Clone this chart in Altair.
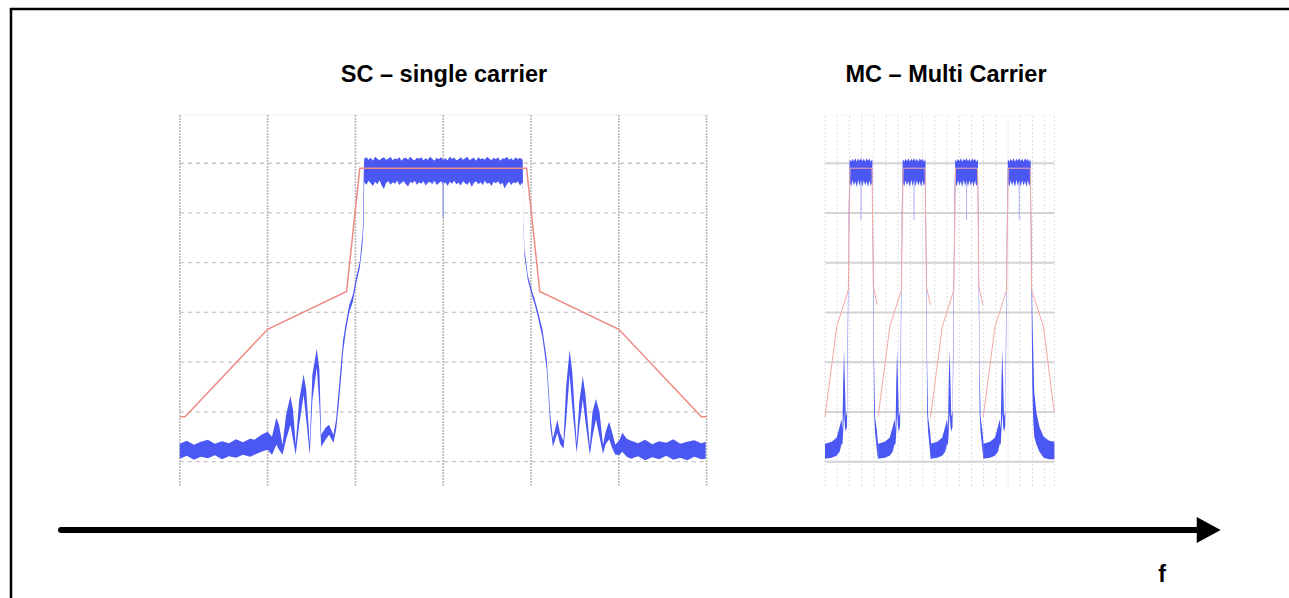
import altair as alt
import pandas as pd

# ---------------- data: SC (single carrier) spectrum ----------------
# frequency in grid divisions (centre = 0), level in dB (top grid line = 0 dB)
sc_grid_f = [-3, -2, -1, 0, 1, 2, 3]
grid_db = [-60, -50, -40, -30, -20, -10, 0]
db_domain = [-64.9, 9.7]
sc_f_domain = [-3, 3]

sc_left_f = [-3.00, -2.92, -2.84, -2.76, -2.68, -2.60, -2.52, -2.44, -2.36, -2.28, -2.20, -2.15,
             -2.07, -2.00, -1.95, -1.90, -1.87, -1.83, -1.79, -1.74, -1.71, -1.68, -1.64, -1.59,
             -1.56, -1.52, -1.49, -1.44, -1.41, -1.39, -1.34, -1.30, -1.25, -1.22, -1.19, -1.16,
             -1.14, -1.11, -1.07, -1.03, -0.99, -0.95, -0.92, -0.912, -0.905]
sc_left_hi = [-56.4, -55.8, -56.6, -56.0, -55.6, -56.4, -55.9, -56.3, -55.5, -56.1, -55.4, -55.6,
              -54.6, -54.0, -55.0, -51.2, -52.6, -56.6, -50.6, -46.8, -49.6, -56.6, -47.6, -42.5,
              -45.6, -56.6, -42.5, -37.3, -41.5, -54.6, -53.2, -52.6, -54.6, -51.6, -45.6, -39.5,
              -35.5, -32.3, -28.5, -26.5, -22.8, -19.8, -14.4, -12.0, -2.0]
sc_left_lo = [-59.4, -58.8, -59.6, -59.0, -59.3, -58.7, -59.5, -58.9, -59.2, -58.6, -59.0, -58.6,
              -58.0, -57.6, -58.6, -56.6, -57.6, -58.6, -55.6, -52.6, -55.6, -58.6, -52.6, -46.6,
              -51.6, -58.6, -47.6, -41.1, -48.6, -57.0, -55.6, -54.6, -56.2, -53.6, -48.6, -42.5,
              -37.9, -33.9, -29.9, -27.9, -24.1, -21.0, -16.4, -14.0, -12.0]

sc_band_f = [-0.900, -0.875, -0.850, -0.825, -0.800, -0.775, -0.750, -0.725, -0.700, -0.675,
             -0.650, -0.625, -0.600, -0.575, -0.550, -0.525, -0.500, -0.475, -0.450, -0.425,
             -0.400, -0.375, -0.350, -0.325, -0.300, -0.275, -0.250, -0.225, -0.200, -0.175,
             -0.150, -0.125, -0.100, -0.075, -0.050, -0.025, 0.000, 0.025, 0.050, 0.075,
             0.100, 0.125, 0.150, 0.175, 0.200, 0.225, 0.250, 0.275, 0.300, 0.325,
             0.350, 0.375, 0.400, 0.425, 0.450, 0.475, 0.500, 0.525, 0.550, 0.575,
             0.600, 0.625, 0.650, 0.675, 0.700, 0.725, 0.750, 0.775, 0.800, 0.825,
             0.850, 0.875, 0.900, 0.905]
sc_band_hi = [0.9, 1.2, 0.7, 1.1, 0.5, 1.3, 0.9, 0.6, 1.0, 1.2, 0.7, 0.9, 1.3, 0.6, 1.0, 0.8, 1.2, 0.5, 1.0, 1.1,
              0.7, 1.3, 0.8, 0.6, 1.1, 0.9, 1.2, 0.6, 1.0, 0.7, 1.3, 0.9, 0.5, 1.1, 0.8, 1.2, 0.7, 1.0, 0.6, 1.3,
              0.9, 1.1, 0.6, 0.8, 1.2, 0.7, 1.0, 1.3, 0.6, 0.9, 1.1, 0.5, 1.2, 0.8, 1.0, 0.7, 1.3, 0.9, 0.6, 1.1,
              0.8, 1.2, 0.5, 1.0, 0.9, 1.3, 0.7, 1.0, 0.6, 1.2, 0.8, 1.1, 0.7, 0.9]
sc_band_lo = [-3.8, -4.3, -3.5, -4.0, -4.6, -3.7, -4.2, -3.4, -4.5, -5.2, -3.9, -3.6, -4.3, -3.8, -4.1, -3.5, -4.4, -3.9, -3.6, -4.2,
              -4.7, -3.7, -4.0, -3.5, -4.3, -3.8, -4.1, -3.6, -4.5, -3.9, -3.7, -4.2, -3.5, -4.4, -4.0, -3.6, -4.3, -3.8, -4.6, -3.7,
              -4.1, -3.5, -4.2, -3.9, -4.5, -3.6, -4.0, -4.3, -3.7, -4.8, -3.9, -3.6, -4.2, -3.8, -4.4, -3.5, -4.1, -3.9, -4.6, -3.7,
              -4.0, -3.6, -4.3, -3.9, -5.1, -4.2, -3.7, -4.4, -3.8, -4.0, -3.6, -4.5, -3.9, -3.9]

sc_right_f = [0.91, 0.914, 0.925, 0.962, 1.02, 1.04, 1.08, 1.13, 1.18, 1.22, 1.25, 1.30, 1.33,
              1.37, 1.40, 1.44, 1.47, 1.52, 1.55, 1.59, 1.62, 1.67, 1.70, 1.74, 1.78, 1.82, 1.85,
              1.89, 1.93, 1.96, 2.01, 2.04, 2.09, 2.14, 2.22, 2.30, 2.38, 2.46, 2.54, 2.62, 2.70,
              2.78, 2.86, 2.94, 2.99]
sc_right_hi = [-5.4, -11.0, -17.2, -22.4, -26.2, -27.2, -29.8, -33.4, -39.5, -50.6, -55.4, -51.6,
               -54.2, -55.8, -45.0, -37.5, -42.0, -56.4, -48.0, -42.9, -46.5, -57.0, -50.0, -47.4,
               -50.0, -56.6, -54.0, -52.0, -54.5, -56.6, -55.6, -54.2, -55.4, -55.8, -56.3, -55.6,
               -56.5, -55.9, -56.2, -55.5, -56.4, -56.0, -55.7, -56.3, -56.0]
sc_right_lo = [-6.0, -12.5, -18.6, -23.4, -27.2, -28.2, -31.0, -35.0, -41.5, -53.0, -57.0, -54.2,
               -56.4, -57.4, -52.0, -42.5, -49.0, -58.2, -53.0, -47.5, -52.0, -58.6, -55.0, -51.5,
               -55.0, -58.4, -56.5, -55.5, -57.5, -58.6, -58.6, -58.0, -59.0, -59.4, -58.9, -59.7,
               -59.1, -59.5, -58.8, -59.6, -59.2, -59.7, -59.0, -59.5, -59.4]

sc_mask_f = [-3.0, -2.94, -2.0, -1.10, -0.95, 0.95, 1.10, 2.0, 2.94, 3.0]
sc_mask_db = [-51.0, -51.0, -33.4, -25.8, -1.0, -1.0, -25.8, -33.4, -51.0, -51.0]

sc_notch_f = [0.0]
sc_notch_top = [-3.8]
sc_notch_bottom = [-10.8]

# ---------------- data: MC (multi carrier) spectrum ----------------
mc_f_domain = [0, 18.8]
mc_grid_f = [0, 1, 2, 3, 4, 5, 6, 7, 8, 9, 10, 11, 12, 13, 14, 15, 16, 17, 18, 18.8]
mc_centers = [2.95, 7.30, 11.60, 15.92]

mc_left_off = [-2.95, -2.40, -2.00, -1.75, -1.60, -1.52, -1.46, -1.39, -1.32, -1.25, -1.15, -1.08, -1.00]
mc_left_hi = [-56.4, -56.0, -55.2, -53.0, -51.5, -53.5, -44.0, -37.5, -44.0, -51.0, -50.0, -30.0, -8.0]
mc_left_lo = [-59.4, -59.2, -58.8, -58.0, -56.5, -56.5, -54.0, -50.0, -53.0, -54.0, -53.0, -40.0, -14.0]
mc_band_off = [-0.93, -0.80, -0.70, -0.58, -0.47, -0.35, -0.23, -0.12, 0.00, 0.12, 0.23, 0.35,
               0.47, 0.58, 0.70, 0.80, 0.93]
mc_band_hi = [0.8, 0.3, 0.9, 0.4, 1.0, 0.3, 0.9, 0.5, 1.0, 0.4, 0.9, 0.3, 1.0, 0.5, 0.9, 0.3, 0.8]
mc_band_lo = [-3.8, -4.7, -3.4, -4.5, -3.6, -4.8, -3.3, -4.6, -3.5, -4.7, -3.4, -4.5, -3.6, -4.8,
              -3.4, -4.6, -3.8]
mc_right_off = [0.98, 1.07, 1.15, 1.31, 1.39]
mc_right_hi = [-10.0, -40.0, -51.0, -54.0, -56.2]
mc_right_lo = [-20.0, -50.0, -54.0, -58.0, -59.4]
mc_tail_off = [0.98, 1.07, 1.15, 1.23, 1.40, 1.65, 2.00, 2.45, 2.88]
mc_tail_hi = [-10.0, -30.0, -38.0, -46.0, -50.0, -53.0, -55.0, -55.8, -56.0]
mc_tail_lo = [-20.0, -45.0, -52.0, -55.0, -56.5, -58.0, -59.2, -59.5, -59.5]

mc_mask_left_off = [-2.95, -1.99, -1.04, -0.90, 0.90]
mc_mask_left_db = [-51.0, -32.9, -25.5, -1.0, -1.0]
mc_mask_inner_off = [1.01, 1.34]
mc_mask_inner_db = [-24.8, -28.5]
mc_mask_outer_off = [1.01, 1.99, 2.88]
mc_mask_outer_db = [-25.5, -32.9, -50.3]

mc_notch_top = [-3.7]
mc_notch_bottom = [-11.4]

titles = ["SC \u2013 single carrier", "MC \u2013 Multi Carrier"]
axis_label = ["f"]

# ---------------- layout / style ----------------
W, H = 1289, 598
SC_X_RANGE = [179.8, 706.6]
MC_X_RANGE = [825.0, 1054.4]
Y_RANGE = [486.0, 115.0]
BLUE = "#4b57f2"
BLUE_LIGHT = "#9aa2f4"
RED = "#ee8a84"
RED_LIGHT = "#f2aaa6"
FONT = "Liberation Sans"

sc_x = alt.Scale(domain=sc_f_domain, range=SC_X_RANGE, nice=False, zero=False)
mc_x = alt.Scale(domain=mc_f_domain, range=MC_X_RANGE, nice=False, zero=False)
yy = alt.Scale(domain=db_domain, range=Y_RANGE, nice=False, zero=False)

# ---------------- tables ----------------
sc_blue = pd.DataFrame({
    "f": sc_left_f + sc_band_f + sc_right_f,
    "hi": sc_left_hi + sc_band_hi + sc_right_hi,
    "lo": sc_left_lo + sc_band_lo + sc_right_lo,
})
sc_mask = pd.DataFrame({"f": sc_mask_f, "db": sc_mask_db})
sc_notch = pd.DataFrame({"f": sc_notch_f, "a": sc_notch_top, "b": sc_notch_bottom})

rows_blue, rows_mask, rows_notch = [], [], []
n = len(mc_centers)
for k, c in enumerate(mc_centers):
    last = k == n - 1
    r_off = mc_tail_off if last else mc_right_off
    r_hi = mc_tail_hi if last else mc_right_hi
    r_lo = mc_tail_lo if last else mc_right_lo
    for o, h, l in zip(mc_left_off + mc_band_off + r_off,
                       mc_left_hi + mc_band_hi + r_hi,
                       mc_left_lo + mc_band_lo + r_lo):
        rows_blue.append({"f": c + o, "hi": h, "lo": l, "carrier": k})
    m_off = mc_mask_outer_off if last else mc_mask_inner_off
    m_db = mc_mask_outer_db if last else mc_mask_inner_db
    for o, d in zip(mc_mask_left_off + m_off, mc_mask_left_db + m_db):
        rows_mask.append({"f": c + o, "db": d, "carrier": k})
    rows_notch.append({"f": c, "a": mc_notch_top[0], "b": mc_notch_bottom[0]})
mc_blue = pd.DataFrame(rows_blue)
mc_mask = pd.DataFrame(rows_mask)
mc_notch = pd.DataFrame(rows_notch)

sc_vgrid = pd.DataFrame({"f": sc_grid_f, "a": db_domain[0], "b": db_domain[1]})
sc_hgrid = pd.DataFrame({"db": grid_db, "a": sc_f_domain[0], "b": sc_f_domain[1]})
sc_top = pd.DataFrame({"db": [db_domain[1]], "a": sc_f_domain[0], "b": sc_f_domain[1]})
mc_vgrid = pd.DataFrame({"f": mc_grid_f, "a": db_domain[0], "b": db_domain[1]})
mc_hgrid = pd.DataFrame({"db": grid_db, "a": mc_f_domain[0], "b": mc_f_domain[1]})
mc_top = pd.DataFrame({"db": [db_domain[1]], "a": mc_f_domain[0], "b": mc_f_domain[1]})


def vrule(df, xs, color, width, dash):
    return alt.Chart(df).mark_rule(color=color, strokeWidth=width, strokeDash=dash).encode(
        x=alt.X("f:Q", scale=xs, axis=None),
        y=alt.Y("a:Q", scale=yy, axis=None),
        y2="b:Q",
    )


def hrule(df, xs, color, width, dash):
    return alt.Chart(df).mark_rule(color=color, strokeWidth=width, strokeDash=dash).encode(
        x=alt.X("a:Q", scale=xs, axis=None),
        x2="b:Q",
        y=alt.Y("db:Q", scale=yy, axis=None),
    )


layers = [
    # SC grid
    hrule(sc_top, sc_x, "#e4e4e4", 1, [2, 2]),
    vrule(sc_vgrid, sc_x, "#b8b8b8", 1.6, [2, 1]),
    hrule(sc_hgrid, sc_x, "#c4c4c4", 1.3, [4, 4]),
    # SC spectrum
    alt.Chart(sc_blue).mark_area(color=BLUE, interpolate="linear").encode(
        x=alt.X("f:Q", scale=sc_x, axis=None),
        y=alt.Y("hi:Q", scale=yy, axis=None),
        y2="lo:Q",
    ),
    vrule(sc_notch, sc_x, BLUE_LIGHT, 1.5, [1, 0]),
    alt.Chart(sc_mask).mark_line(color=RED, strokeWidth=1.5).encode(
        x=alt.X("f:Q", scale=sc_x, axis=None),
        y=alt.Y("db:Q", scale=yy, axis=None),
    ),
    # MC grid
    hrule(mc_top, mc_x, "#ececec", 1, [2, 2]),
    vrule(mc_vgrid, mc_x, "#dedede", 1, [2, 2]),
    hrule(mc_hgrid, mc_x, "#d4d4d4", 2, [1, 0]),
    # MC spectrum
    alt.Chart(mc_blue).mark_area(color=BLUE, interpolate="linear").encode(
        x=alt.X("f:Q", scale=mc_x, axis=None),
        y=alt.Y("hi:Q", scale=yy, axis=None),
        y2="lo:Q",
        detail="carrier:N",
    ),
    vrule(mc_notch, mc_x, BLUE_LIGHT, 1, [1, 0]),
    alt.Chart(mc_mask).mark_line(color=RED_LIGHT, strokeWidth=1).encode(
        x=alt.X("f:Q", scale=mc_x, axis=None),
        y=alt.Y("db:Q", scale=yy, axis=None),
        detail="carrier:N",
        order="f:Q",
    ),
]

one = pd.DataFrame({"k": [0]})
deco = [
    # frame
    alt.Chart(one).mark_rule(color="black", strokeWidth=2.5).encode(
        x=alt.value(10), x2=alt.value(1300), y=alt.value(9)),
    alt.Chart(one).mark_rule(color="black", strokeWidth=2.5).encode(
        x=alt.value(11), y=alt.value(8), y2=alt.value(610)),
    # frequency arrow
    alt.Chart(one).mark_rule(color="black", strokeWidth=6, strokeCap="round").encode(
        x=alt.value(61), x2=alt.value(1200), y=alt.value(530)),
    alt.Chart(one).mark_point(shape="M-0.92,-1L0.92,0L-0.92,1Z", filled=True, size=676,
                              color="black", opacity=1).encode(
        x=alt.value(1208.7), y=alt.value(530)),
    # texts
    alt.Chart(pd.DataFrame({"t": [titles[0]]})).mark_text(
        font=FONT, fontSize=23.5, fontWeight="bold", color="black", align="center",
        baseline="alphabetic").encode(x=alt.value(444), y=alt.value(82), text="t:N"),
    alt.Chart(pd.DataFrame({"t": [titles[1]]})).mark_text(
        font=FONT, fontSize=23.5, fontWeight="bold", color="black", align="center",
        baseline="alphabetic").encode(x=alt.value(946), y=alt.value(82), text="t:N"),
    alt.Chart(pd.DataFrame({"t": axis_label})).mark_text(
        font=FONT, fontSize=23, fontWeight="bold", color="black", align="center",
        baseline="alphabetic").encode(x=alt.value(1162), y=alt.value(582), text="t:N"),
]

chart = alt.layer(*layers, *deco).resolve_scale(
    x="independent", y="independent"
).properties(
    width=W, height=H, padding=0, background="white",
    autosize=alt.AutoSizeParams(type="none"),
).configure_view(strokeWidth=0)

chart.save("out.html", embed_options={"renderer": "svg", "actions": False})
